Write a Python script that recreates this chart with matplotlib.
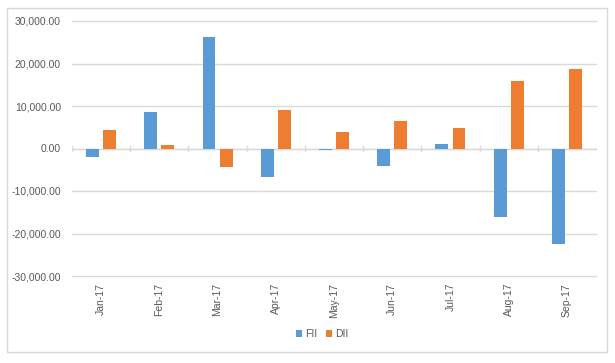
import matplotlib
matplotlib.use("Agg")
import matplotlib.pyplot as plt
import numpy as np
from matplotlib.patches import Rectangle
from matplotlib.ticker import FuncFormatter

months = ["Jan-17", "Feb-17", "Mar-17", "Apr-17", "May-17", "Jun-17", "Jul-17", "Aug-17", "Sep-17"]
fii = [-1900, 8600, 26200, -6600, -300, -4150, 1100, -16150, -22400]
dii = [4300, 900, -4400, 9100, 4000, 6400, 4800, 16000, 18750]
yticks = [-30000, -20000, -10000, 0, 10000, 20000, 30000]

plt.rcParams['font.family'] = ['Liberation Sans', 'DejaVu Sans']
text_color = '#595959'

fig = plt.figure(figsize=(6.15, 3.63), dpi=100)
fig.patches.append(Rectangle((7/615, 1-352/363), 600/615, 344/363, transform=fig.transFigure,
                             fill=False, edgecolor='#d9d9d9', linewidth=1.0))
ax = fig.add_axes([72/615, 1-276/363, 524/615, 255/363])

x = np.arange(len(months))
w = 0.22
off = 0.147
ax.bar(x - off, fii, w, color='#5B9BD5', label='FII', zorder=3)
ax.bar(x + off, dii, w, color='#ED7D31', label='DII', zorder=3)

ax.set_xlim(-0.5, len(months) - 0.5)
ax.set_ylim(-30000, 30000)
ax.set_yticks(yticks)
ax.yaxis.set_major_formatter(FuncFormatter(lambda v, p: f"{v:,.2f}"))
ax.grid(axis='y', color='#d9d9d9', linewidth=1.0, zorder=0)
for gl in ax.get_ygridlines():
    gl.set_clip_on(False)
ax.axhline(0, color='#d9d9d9', linewidth=1.0, zorder=2)
for b in np.arange(-0.5, len(months), 1.0):
    ax.plot([b, b], [-700, 700], color='#d9d9d9', linewidth=1.0, zorder=2)

ax.set_xticks(x)
ax.set_xticklabels(months, rotation=90)
ax.tick_params(axis='both', length=0, labelsize=7.5, colors=text_color, pad=5)
ax.tick_params(axis='y', pad=8)
for s in ax.spines.values():
    s.set_visible(False)

leg = fig.legend(loc='center', bbox_to_anchor=(322/615, 1-334/363), ncol=2, frameon=False,
                 fontsize=7.5, handlelength=0.6, handleheight=0.6, handletextpad=0.3,
                 columnspacing=0.8)
for t in leg.get_texts():
    t.set_color(text_color)

fig.savefig('out.png', dpi=100)
